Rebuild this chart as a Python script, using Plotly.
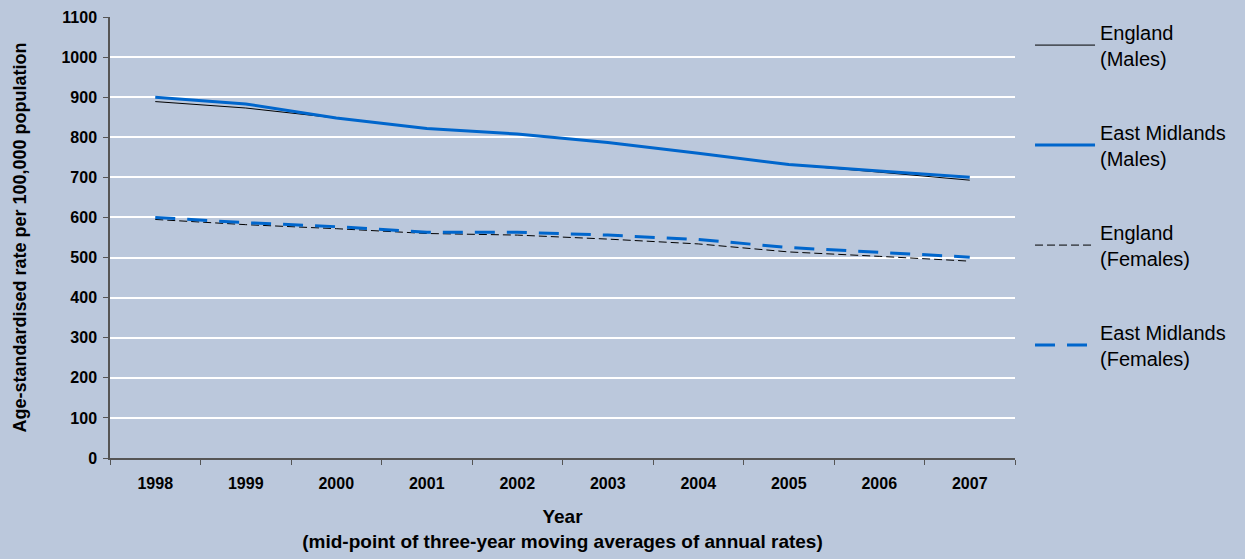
import plotly.graph_objects as go

years = ["1998", "1999", "2000", "2001", "2002", "2003", "2004", "2005", "2006", "2007"]
england_males = [889, 873, 848, 822, 808, 787, 760, 732, 713, 693]
em_males = [900, 883, 848, 822, 808, 787, 760, 732, 716, 700]
england_females = [595, 582, 572, 560, 556, 546, 534, 514, 503, 491]
em_females = [600, 587, 577, 563, 563, 556, 545, 525, 513, 501]
y_ticks = [0, 100, 200, 300, 400, 500, 600, 700, 800, 900, 1000, 1100]

BG = "#BBC8DC"
BLUE = "#0066CC"
FONT = "Liberation Sans, Arial, sans-serif"

fig = go.Figure()
fig.add_trace(go.Scatter(x=years, y=england_males, mode="lines", name="England<br>(Males)",
                         line=dict(color="black", width=1), legendgroup="a"))
fig.add_trace(go.Scatter(x=years, y=em_males, mode="lines", name="East Midlands<br>(Males)",
                         line=dict(color=BLUE, width=3), legendgroup="b"))
fig.add_trace(go.Scatter(x=years, y=england_females, mode="lines", name="England<br>(Females)",
                         line=dict(color="black", width=1, dash="8px,4px"), legendgroup="c"))
fig.add_trace(go.Scatter(x=years, y=em_females, mode="lines", name="East Midlands<br>(Females)",
                         line=dict(color=BLUE, width=3, dash="20px,12px"), legendgroup="d"))

fig.update_layout(
    width=1245, height=559,
    paper_bgcolor=BG, plot_bgcolor=BG,
    margin=dict(l=110, r=230, t=17, b=101, autoexpand=False),
    font=dict(family=FONT, color="black"),
    showlegend=True,
    legend=dict(x=1.0166, xanchor="left", y=1.010, yanchor="top",
                font=dict(size=20, family=FONT), tracegroupgap=45,
                itemwidth=60, bgcolor="rgba(0,0,0,0)", maxheight=559),
    xaxis=dict(
        type="category", tickson="boundaries", ticks="outside", ticklen=5,
        tickcolor="#555", showline=True, linecolor="#555", linewidth=1.5,
        showgrid=False, tickfont=dict(size=16, family=FONT, weight="bold"),
        ticklabelstandoff=10, automargin=True,
        title=dict(text="<b>Year</b><br><b>(mid-point of three-year moving averages of annual rates)</b>",
                   font=dict(size=19, family=FONT), standoff=19),
        range=[-0.5, 9.5],
    ),
    yaxis=dict(
        range=[0, 1100], tickvals=y_ticks, ticks="outside", ticklen=5,
        tickcolor="#555", showline=True, linecolor="#555", linewidth=1.5,
        showgrid=True, gridcolor="white", gridwidth=2, zeroline=False,
        tickfont=dict(size=16, family=FONT, weight="bold"),
        ticklabelstandoff=3, automargin=True,
        title=dict(text="<b>Age-standardised rate per 100,000 population</b>",
                   font=dict(size=18, family=FONT), standoff=30),
    ),
)

fig.write_html("out.html", config={"displayModeBar": False},
               post_script="document.body.style.margin='0';")
